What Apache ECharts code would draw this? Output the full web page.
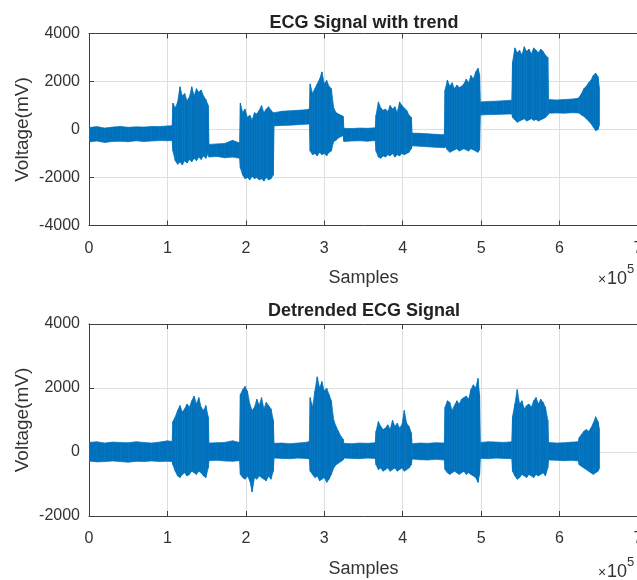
<!DOCTYPE html>
<html>
<head>
<meta charset="utf-8">
<script src="https://cdn.jsdelivr.net/npm/echarts@6/dist/echarts.min.js"></script>
<style>
  html, body { margin: 0; background: #fff; }
  #chartContainer { width: 637px; height: 580px; }
</style>
</head>
<body>
<div id="chartContainer"></div>
<script>
// sample positions (x 1e5), one row per stretch of the recording
var samples = [
  0, 0.1, 0.2, 0.3, 0.4, 0.5, 0.6, 0.7, 0.8, 0.9, 1.0, 1.06,
  1.07, 1.10, 1.13, 1.16, 1.19, 1.22, 1.25, 1.28, 1.31, 1.34, 1.37, 1.40, 1.43, 1.46, 1.49, 1.52,
  1.53, 1.63, 1.73, 1.83, 1.92,
  1.93, 1.96, 1.99, 2.02, 2.05, 2.08, 2.11, 2.14, 2.17, 2.20, 2.23, 2.26, 2.29, 2.32, 2.35,
  2.36, 2.46, 2.56, 2.66, 2.76, 2.81,
  2.82, 2.85, 2.88, 2.91, 2.94, 2.97, 3.00, 3.03, 3.06, 3.09, 3.12, 3.15, 3.18, 3.21, 3.24,
  3.25, 3.35, 3.45, 3.55, 3.65,
  3.66, 3.69, 3.72, 3.75, 3.78, 3.81, 3.84, 3.87, 3.90, 3.93, 3.96, 3.99, 4.02, 4.05, 4.08, 4.11,
  4.12, 4.22, 4.32, 4.42, 4.53,
  4.54, 4.57, 4.60, 4.63, 4.66, 4.69, 4.72, 4.75, 4.78, 4.81, 4.84, 4.87, 4.90, 4.93, 4.96, 4.98,
  4.99, 5.09, 5.19, 5.29, 5.39,
  5.40, 5.43, 5.46, 5.49, 5.52, 5.55, 5.58, 5.61, 5.64, 5.67, 5.70, 5.73, 5.76, 5.79, 5.82, 5.85,
  5.86, 5.96, 6.06, 6.16, 6.24,
  6.25, 6.28, 6.31, 6.34, 6.37, 6.40, 6.43, 6.46, 6.49, 6.51
];

// envelope of the raw signal (mV), max and min around each sample position
var trendHi = [
  80, 120, 60, 100, 130, 90, 110, 100, 130, 120, 150, 160,
  1100, 900, 1150, 1780, 1400, 1500, 1200, 1350, 1780, 1400, 1700, 1550, 1650, 1400, 1250, 1000,
  -620, -600, -580, -450, -560,
  1100, 700, 850, 500, 600, 400, 700, 650, 800, 1000, 700, 850, 950, 800, 700,
  700, 760, 780, 800, 820, 850,
  1900, 1500, 1700, 1900, 2100, 2400, 1900, 2050, 1800, 1700, 900, 700, 650, 600, 550,
  50, 40, 60, 50, 70,
  600, 1150, 900, 800, 850, 750, 1000, 850, 950, 700, 1150, 1000, 900, 800, 600, 500,
  -150, -160, -180, -200, -220,
  1650, 2060, 1800, 1950, 1700, 1850, 1750, 1800, 1900, 2100, 1950, 2250, 2100, 2400, 2550, 2300,
  1150, 1170, 1180, 1200, 1220,
  2800, 3400, 3200, 3300, 3100, 3450, 3250, 3350, 3150, 3400, 3300, 3200, 3350, 3250, 3100, 3000,
  1250, 1230, 1250, 1270, 1300,
  1350, 1500, 1700, 1800, 1950, 2050, 2250, 2350, 2200, 1700
];
var trendLo = [
  -520, -480, -540, -500, -490, -510, -470, -500, -480, -460, -470, -460,
  -900, -1300, -1450, -1350, -1480, -1300, -1400, -1250, -1350, -1200, -1300, -1150, -1250, -1100, -1200, -1000,
  -1150, -1120, -1180, -1150, -1200,
  -1600, -1900, -2050, -2000, -2100, -1950, -2050, -2000, -2100, -2050, -2150, -2000, -2100, -2050, -1900,
  150, 170, 180, 200, 220, 230,
  -900, -1050, -1000, -1100, -950, -1050, -1000, -1100, -950, -900, -500, -450, -350, -300, -250,
  -500, -480, -470, -490, -460,
  -900, -1150, -1200, -1100, -1150, -1050, -1100, -1000, -1150, -1050, -1100, -1000, -1050, -1000, -950, -800,
  -680, -700, -720, -740, -760,
  -700, -850, -950, -900, -850, -800, -900, -850, -800, -850, -900, -800, -850, -900, -950, -850,
  600, 620, 630, 640, 650,
  500, 400, 300, 350, 400, 450, 350, 400, 450, 380, 420, 350, 400, 450, 500, 600,
  680, 690, 680, 700, 690,
  680, 600, 550, 450, 350, 250, 100, -50, 0, 200
];

// envelope of the detrended signal (mV)
var detrendHi = [
  300, 320, 280, 310, 300, 290, 320, 300, 280, 310, 350, 330,
  950, 1100, 1300, 1450, 1250, 1350, 1500, 1400, 1600, 1750, 1500, 1700, 1400, 1300, 1450, 1100,
  280, 290, 300, 350, 300,
  1800, 1950, 2050, 1900, 1500, 1300, 1400, 1650, 1450, 1700, 1350, 1550, 1450, 1350, 1000,
  270, 280, 260, 280, 300, 330,
  1700, 1400, 1900, 2350, 2000, 2200, 1900, 2000, 1800, 1600, 1000, 800, 650, 500, 400,
  270, 260, 280, 270, 290,
  650, 950, 800, 700, 750, 850, 700, 1000, 800, 900, 750, 850, 1300, 900, 800, 600,
  260, 280, 270, 290, 280,
  1400, 1600, 1550, 1300, 1450, 1600, 1500, 1650, 1700, 1750, 1650, 1950, 2100, 2000, 2300, 1800,
  300, 320, 310, 300, 320,
  1100, 1500, 1950, 1500, 1600, 1350, 1450, 1500, 1400, 1600, 1700, 1500, 1650, 1550, 1400, 1000,
  300, 280, 290, 310, 320,
  450, 550, 650, 700, 650, 750, 900, 1100, 950, 700
];
var detrendLo = [
  -280, -310, -300, -280, -300, -320, -290, -300, -280, -300, -290, -300,
  -400, -600, -750, -800, -700, -650, -750, -700, -600, -650, -700, -600, -650, -750, -800, -500,
  -270, -260, -280, -290, -270,
  -700, -800, -850, -750, -900, -1250, -800, -850, -750, -800, -850, -900, -750, -850, -600,
  -190, -200, -210, -190, -200, -220,
  -600, -700, -800, -750, -900, -850, -800, -950, -850, -700, -500, -400, -350, -300, -250,
  -190, -200, -210, -190, -200,
  -400, -550, -500, -600, -550, -500, -600, -550, -500, -600, -550, -500, -600, -550, -500, -400,
  -220, -240, -250, -230, -250,
  -550, -650, -700, -650, -600, -650, -700, -650, -600, -700, -650, -700, -750, -800, -950, -700,
  -200, -210, -190, -200, -210,
  -600, -750, -850, -800, -700, -750, -800, -700, -750, -800, -700, -750, -700, -650, -750, -500,
  -250, -260, -270, -260, -280,
  -400, -450, -500, -550, -600, -650, -700, -650, -600, -500
];

var xTicks = [0, 7, 1];
var trendTicks = [-4000, 4000, 2000];
var detrendTicks = [-2000, 4000, 2000];

var BLUE = "#0072BD";
var FONT = "Liberation Sans";
var CHART;

function bandRenderer(hi, lo) {
  return function (params, api) {
    var i = params.dataIndex;
    if (i >= samples.length - 1) {
      return null;
    }
    var p1 = api.coord([samples[i], hi[i]]);
    var p2 = api.coord([samples[i + 1], hi[i + 1]]);
    var p3 = api.coord([samples[i + 1], lo[i + 1]]);
    var p4 = api.coord([samples[i], lo[i]]);
    return {
      type: "polygon",
      shape: { points: [p1, p2, p3, p4] },
      style: { fill: BLUE, stroke: BLUE, lineWidth: 0.7 },
    };
  };
}

function bottomAxis(grid) {
  return {
    type: "value",
    gridIndex: grid,
    min: xTicks[0],
    max: xTicks[1],
    interval: xTicks[2],
    name: "Samples",
    nameLocation: "middle",
    nameGap: 44,
    nameTextStyle: { fontFamily: FONT, fontSize: 18, color: "#333" },
    axisLine: { onZero: false, lineStyle: { color: "#404040", width: 1 } },
    axisTick: { inside: true, length: 5, lineStyle: { color: "#404040" } },
    axisLabel: { fontFamily: FONT, fontSize: 16, color: "#333", margin: 15, showMaxLabel: true },
    splitLine: { show: true, lineStyle: { color: "#dedede", width: 1 } },
  };
}

function topAxis(grid) {
  return {
    type: "value",
    gridIndex: grid,
    position: "top",
    min: xTicks[0],
    max: xTicks[1],
    interval: xTicks[2],
    axisLine: { onZero: false, lineStyle: { color: "#404040", width: 1 } },
    axisTick: { inside: true, length: 5, lineStyle: { color: "#404040" } },
    axisLabel: { show: false },
    splitLine: { show: false },
  };
}

function leftAxis(grid, ticks) {
  return {
    type: "value",
    gridIndex: grid,
    min: ticks[0],
    max: ticks[1],
    interval: ticks[2],
    name: "Voltage(mV)",
    nameLocation: "middle",
    nameGap: 57,
    nameMoveOverlap: false,
    nameTextStyle: { fontFamily: FONT, fontSize: 19, color: "#333" },
    axisLine: { show: true, onZero: false, lineStyle: { color: "#404040", width: 1 } },
    axisTick: { show: true, inside: true, length: 5, lineStyle: { color: "#404040" } },
    axisLabel: {
      fontFamily: FONT,
      fontSize: 16,
      color: "#333",
      margin: 9,
      formatter: function (v) {
        return String(v);
      },
    },
    splitLine: { show: true, lineStyle: { color: "#dedede", width: 1 } },
  };
}

// "x10^5" exponent note under the right end of each x axis
function powerLabel(midY) {
  return {
    type: "group",
    children: [
      { type: "text", x: 598, y: midY + 1, style: { text: "×", fontFamily: FONT, fontSize: 14, fill: "#333", verticalAlign: "middle" } },
      { type: "text", x: 607, y: midY, style: { text: "10", fontFamily: FONT, fontSize: 18, fill: "#333", verticalAlign: "middle" } },
      { type: "text", x: 627, y: midY - 10, style: { text: "5", fontFamily: FONT, fontSize: 13, fill: "#333", verticalAlign: "middle" } },
    ],
  };
}

window.onload = function () {
  CHART = echarts.init(document.getElementById("chartContainer"), null, { renderer: "canvas" });

  var option = {
    backgroundColor: "#fff",
    animation: false,
    title: [
      {
        text: "ECG Signal with trend",
        left: 359,
        top: 9,
        textAlign: "center",
        textStyle: { fontFamily: FONT, fontSize: 18, fontWeight: "bold", color: "#222" },
      },
      {
        text: "Detrended ECG Signal",
        left: 359,
        top: 297,
        textAlign: "center",
        textStyle: { fontFamily: FONT, fontSize: 18, fontWeight: "bold", color: "#222" },
      },
    ],
    grid: [
      { left: 89, top: 33.5, width: 549, height: 192, outerBoundsMode: "none", containLabel: false },
      { left: 89, top: 324, width: 549, height: 192, outerBoundsMode: "none", containLabel: false },
    ],
    xAxis: [bottomAxis(0), topAxis(0), bottomAxis(1), topAxis(1)],
    yAxis: [leftAxis(0, trendTicks), leftAxis(1, detrendTicks)],
    series: [
      {
        name: "ECG with trend",
        type: "custom",
        xAxisIndex: 0,
        yAxisIndex: 0,
        clip: true,
        renderItem: bandRenderer(trendHi, trendLo),
        encode: { x: 0, y: [1, 2] },
        data: samples.map(function (x, i) { return [x, trendLo[i], trendHi[i]]; }),
      },
      {
        name: "Detrended ECG",
        type: "custom",
        xAxisIndex: 2,
        yAxisIndex: 1,
        clip: true,
        renderItem: bandRenderer(detrendHi, detrendLo),
        encode: { x: 0, y: [1, 2] },
        data: samples.map(function (x, i) { return [x, detrendLo[i], detrendHi[i]]; }),
      },
    ],
    graphic: [powerLabel(279), powerLabel(572)],
  };

  CHART.setOption(option);
};
</script>
</body>
</html>
